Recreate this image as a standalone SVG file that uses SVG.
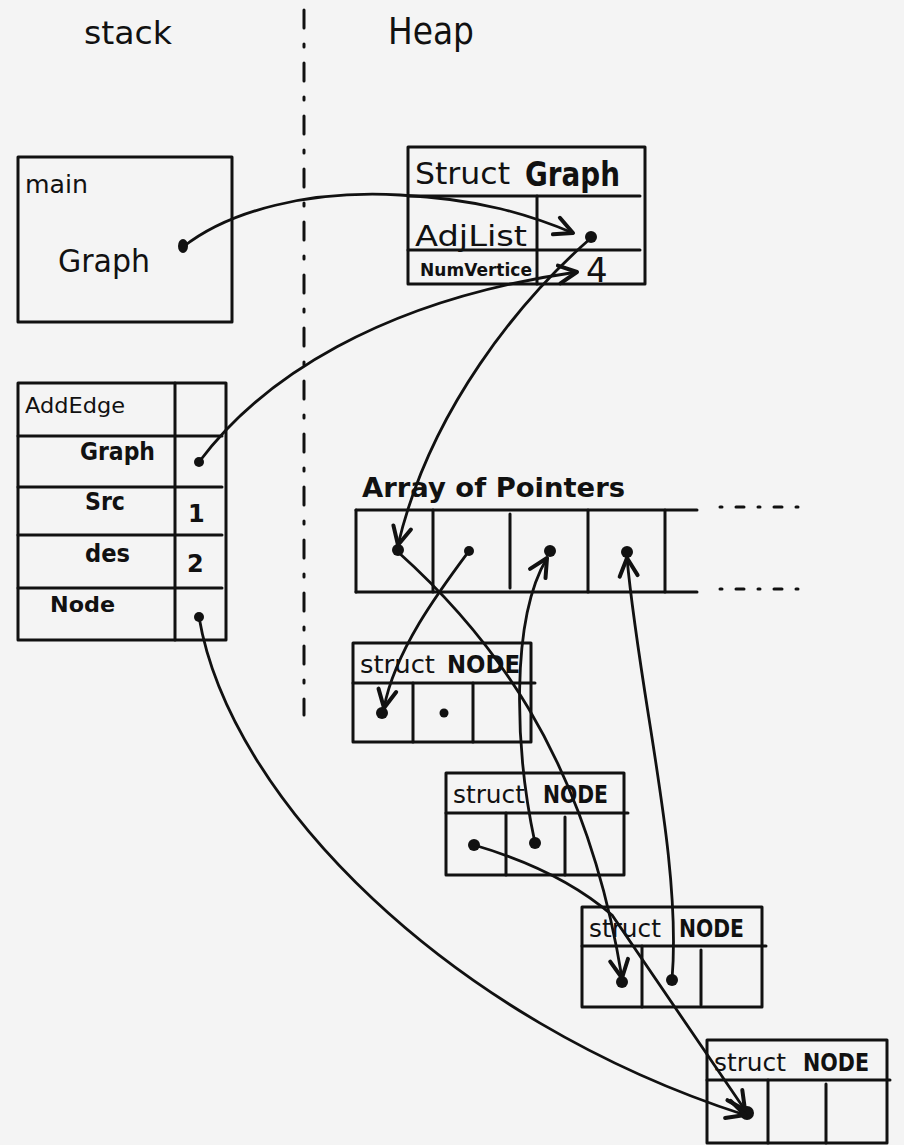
<svg xmlns="http://www.w3.org/2000/svg" width="904" height="1145" viewBox="0 0 904 1145">
<defs>
<style>
.bx{fill:none;stroke:#111;stroke-width:3;stroke-linecap:round;stroke-linejoin:round}
.ln{fill:none;stroke:#111;stroke-width:3;stroke-linecap:round}
.cn{fill:none;stroke:#111;stroke-width:2.8;stroke-linecap:round}
.t{font-family:"DejaVu Sans","Liberation Sans",sans-serif;fill:#111}
.b{font-weight:bold}
.dot{fill:#111}
</style>
<marker id="ah" markerUnits="userSpaceOnUse" markerWidth="26" markerHeight="26" refX="20" refY="10" orient="auto" overflow="visible">
<path d="M2,1 L20,10 L2,19" fill="none" stroke="#111" stroke-width="4" stroke-linecap="round" stroke-linejoin="round"/>
</marker>
</defs>
<rect width="904" height="1145" fill="#f4f4f4"/>

<g id="labels">
<text class="t" x="84" y="44" font-size="32" textLength="88" lengthAdjust="spacingAndGlyphs">stack</text>
<text class="t" x="388" y="44" font-size="38" textLength="86" lengthAdjust="spacingAndGlyphs">Heap</text>
<line class="ln" x1="304" y1="10" x2="304" y2="715" stroke-width="2.5" stroke-dasharray="18 16 3 16"/>
</g>

<g id="main">
<rect class="bx" x="18" y="157" width="214" height="165" stroke-width="2"/>
<text class="t" x="25" y="193" font-size="24" textLength="63" lengthAdjust="spacingAndGlyphs">main</text>
<text class="t" x="58" y="272" font-size="32" textLength="92" lengthAdjust="spacingAndGlyphs">Graph</text>
<ellipse class="dot" cx="183" cy="246" rx="5" ry="7"/>
</g>

<g id="addedge">
<rect class="bx" x="18" y="383" width="208" height="257"/>
<line class="ln" x1="175" y1="383" x2="175" y2="640"/>
<line class="ln" x1="18" y1="436" x2="222" y2="436"/>
<line class="ln" x1="18" y1="487" x2="222" y2="487"/>
<line class="ln" x1="18" y1="535" x2="222" y2="535"/>
<line class="ln" x1="18" y1="588" x2="222" y2="588"/>
<text class="t" x="25" y="413" font-size="22" textLength="100" lengthAdjust="spacingAndGlyphs">AddEdge</text>
<text class="t b" x="80" y="460" font-size="24" textLength="75" lengthAdjust="spacingAndGlyphs">Graph</text>
<text class="t b" x="85" y="510" font-size="24" textLength="40" lengthAdjust="spacingAndGlyphs">Src</text>
<text class="t b" x="85" y="562" font-size="24" textLength="45" lengthAdjust="spacingAndGlyphs">des</text>
<text class="t b" x="50" y="612" font-size="22" textLength="65" lengthAdjust="spacingAndGlyphs">Node</text>
<text class="t b" x="188" y="522" font-size="24">1</text>
<text class="t b" x="187" y="572" font-size="24">2</text>
<circle class="dot" cx="199" cy="462" r="5"/>
<circle class="dot" cx="199" cy="617" r="5"/>
</g>

<g id="graph">
<rect class="bx" x="408" y="147" width="237" height="137"/>
<line class="ln" x1="408" y1="196" x2="640" y2="196"/>
<line class="ln" x1="408" y1="250" x2="640" y2="250"/>
<line class="ln" x1="537" y1="196" x2="537" y2="284"/>
<text class="t" x="415" y="184" font-size="30" textLength="95" lengthAdjust="spacingAndGlyphs">Struct</text>
<text class="t b" x="525" y="186" font-size="34" textLength="95" lengthAdjust="spacingAndGlyphs">Graph</text>
<text class="t" x="415" y="246" font-size="28" textLength="112" lengthAdjust="spacingAndGlyphs">AdjList</text>
<text class="t b" x="420" y="276" font-size="18" textLength="112" lengthAdjust="spacingAndGlyphs">NumVertice</text>
<text class="t" x="586" y="282" font-size="34">4</text>
<circle class="dot" cx="591" cy="237" r="6"/>
</g>

<g id="array">
<text class="t b" x="362" y="497" font-size="26" textLength="263" lengthAdjust="spacingAndGlyphs">Array of Pointers</text>
<line class="ln" x1="356" y1="510" x2="697" y2="510"/>
<line class="ln" x1="356" y1="592" x2="697" y2="592"/>
<line class="ln" x1="356" y1="510" x2="356" y2="592"/>
<line class="ln" x1="433" y1="510" x2="433" y2="592"/>
<line class="ln" x1="510" y1="514" x2="510" y2="588"/>
<line class="ln" x1="588" y1="510" x2="588" y2="592"/>
<line class="ln" x1="665" y1="510" x2="665" y2="592"/>
<line class="ln" x1="720" y1="507" x2="800" y2="507" stroke-dasharray="2 14 8 14"/>
<line class="ln" x1="720" y1="589" x2="800" y2="589" stroke-dasharray="2 14 8 14"/>
<circle class="dot" cx="398" cy="550" r="6"/>
<circle class="dot" cx="469" cy="551" r="5"/>
<circle class="dot" cx="550" cy="551" r="6"/>
<circle class="dot" cx="627" cy="552" r="6"/>
</g>

<g id="node1">
<rect class="bx" x="353" y="643" width="178" height="99"/>
<line class="ln" x1="353" y1="683" x2="535" y2="683"/>
<line class="ln" x1="413" y1="683" x2="413" y2="742"/>
<line class="ln" x1="473" y1="683" x2="473" y2="742"/>
<text class="t" x="360" y="673" font-size="24" textLength="75" lengthAdjust="spacingAndGlyphs">struct</text>
<text class="t b" x="447" y="673" font-size="24" textLength="73" lengthAdjust="spacingAndGlyphs">NODE</text>
<circle class="dot" cx="382" cy="713" r="6"/>
<circle class="dot" cx="444" cy="713" r="4.5"/>
</g>

<g id="node2">
<rect class="bx" x="446" y="773" width="178" height="102"/>
<line class="ln" x1="446" y1="813" x2="628" y2="813"/>
<line class="ln" x1="506" y1="813" x2="506" y2="875"/>
<line class="ln" x1="565" y1="817" x2="565" y2="875"/>
<text class="t" x="453" y="803" font-size="24" textLength="72" lengthAdjust="spacingAndGlyphs">struct</text>
<text class="t b" x="543" y="803" font-size="24" textLength="65" lengthAdjust="spacingAndGlyphs">NODE</text>
<circle class="dot" cx="474" cy="845" r="6"/>
<circle class="dot" cx="535" cy="843" r="6"/>
</g>

<g id="node3">
<rect class="bx" x="582" y="907" width="180" height="100"/>
<line class="ln" x1="582" y1="946" x2="766" y2="946"/>
<line class="ln" x1="642" y1="946" x2="642" y2="1007"/>
<line class="ln" x1="701" y1="950" x2="701" y2="1005"/>
<text class="t" x="589" y="937" font-size="24" textLength="72" lengthAdjust="spacingAndGlyphs">struct</text>
<text class="t b" x="679" y="937" font-size="24" textLength="65" lengthAdjust="spacingAndGlyphs">NODE</text>
<circle class="dot" cx="622" cy="982" r="6"/>
<circle class="dot" cx="672" cy="980" r="6"/>
</g>

<g id="node4">
<rect class="bx" x="707" y="1040" width="180" height="103"/>
<line class="ln" x1="707" y1="1080" x2="890" y2="1080"/>
<line class="ln" x1="768" y1="1080" x2="768" y2="1143"/>
<line class="ln" x1="826" y1="1084" x2="826" y2="1143"/>
<text class="t" x="714" y="1071" font-size="24" textLength="72" lengthAdjust="spacingAndGlyphs">struct</text>
<text class="t b" x="803" y="1071" font-size="24" textLength="66" lengthAdjust="spacingAndGlyphs">NODE</text>
<circle class="dot" cx="747" cy="1113" r="7"/>
</g>

<g id="connectors">
<path class="cn" d="M183,247 C230,210 310,190 400,195 C480,199 530,215 573,233" stroke-width="3.5" marker-end="url(#ah)"/>
<path class="cn" d="M199,462 C260,380 380,300 577,272" marker-end="url(#ah)"/>
<path class="cn" d="M591,238 C520,300 430,410 398,545" marker-end="url(#ah)"/>
<path class="cn" d="M398,552 C485,630 585,750 622,978" marker-end="url(#ah)"/>
<path class="cn" d="M469,551 C440,590 395,650 384,708" marker-end="url(#ah)"/>
<path class="cn" d="M535,843 C515,750 510,620 547,558" marker-end="url(#ah)"/>
<path class="cn" d="M672,980 C682,860 640,700 627,558" marker-end="url(#ah)"/>
<path class="cn" d="M474,845 Q560,870 612,915 L745,1110" stroke-width="4" marker-end="url(#ah)"/>
<path class="cn" d="M199,617 C230,800 450,1020 745,1115" marker-end="url(#ah)"/>
</g>
</svg>
